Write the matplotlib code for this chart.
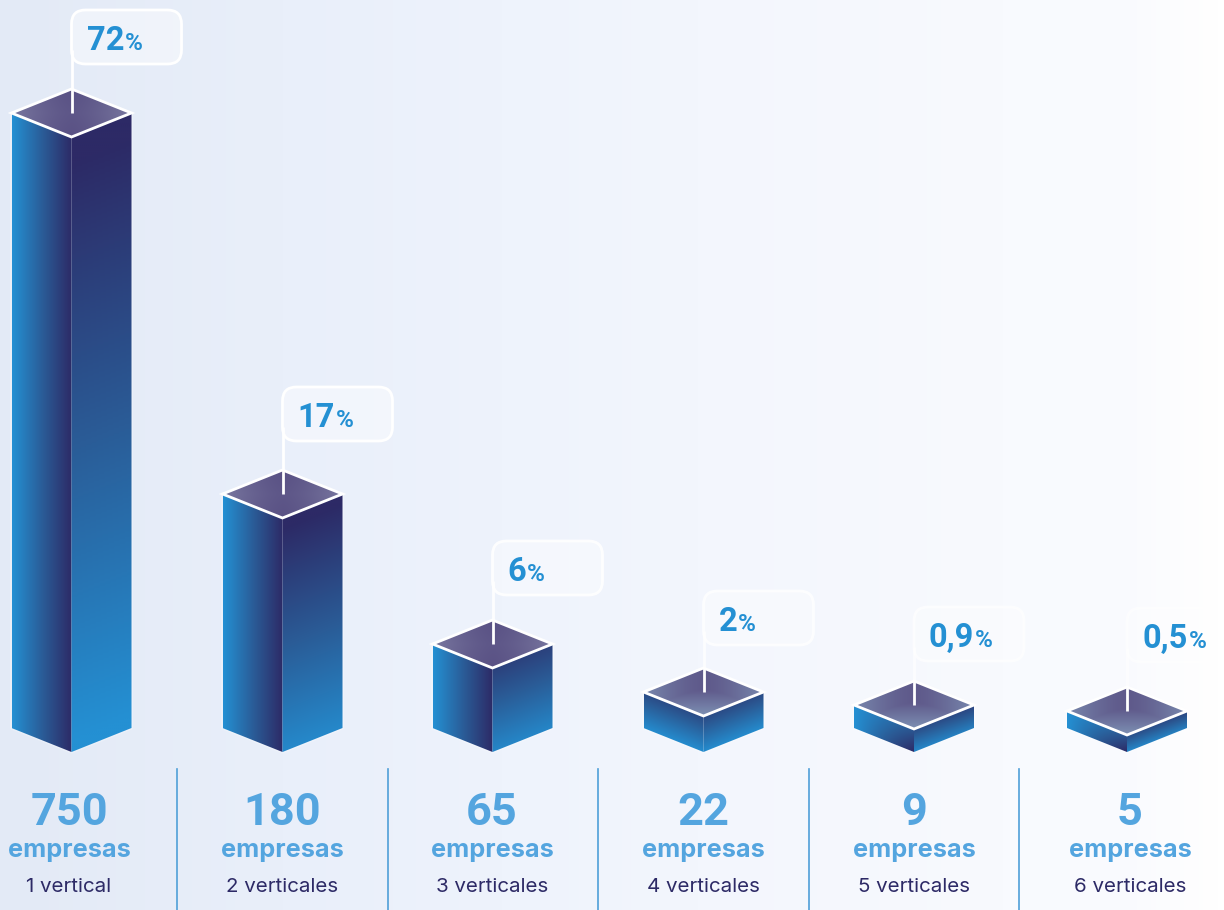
import numpy as np
import matplotlib
matplotlib.use("Agg")
import matplotlib.pyplot as plt
from matplotlib.colors import LinearSegmentedColormap
from matplotlib.patches import Polygon, FancyBboxPatch

plt.rcParams['font.family'] = ['Inter', 'DejaVu Sans']

companies = ['750', '180', '65', '22', '9', '5']
verticals = ['1 vertical', '2 verticales', '3 verticales', '4 verticales', '5 verticales', '6 verticales']
shares = ['72', '17', '6', '2', '0,9', '0,5']
bar_heights = [615, 234, 84, 36, 23, 17]

bar_x = [71.5, 282.5, 492.5, 703.5, 914, 1127]
text_x = [69, 282, 492, 703, 914, 1130]
box_bottom = [64, 441, 595, 645, 661, 662]
box_alpha = [1, 1, .9, .8, .7, .6]
dividers = [177, 387.5, 598, 808.5, 1019]
HW, DY, BASE = 60, 24, 728
BLUE, NAVY = '#2490D3', '#2D2A66'
BOX_W, BOX_H = 110, 54
NUM_FONT = ['Roboto', 'DejaVu Sans']

fig = plt.figure(figsize=(12.24, 9.10), dpi=100)
ax = fig.add_axes([0, 0, 1, 1])
ax.set_xlim(0, 1224); ax.set_ylim(910, 0); ax.axis('off')

bg = LinearSegmentedColormap.from_list('bg', [(0, '#E3EAF6'), (.23, '#E9EFFA'), (.41, '#EEF3FC'), (.57, '#F3F6FD'),
                                              (.82, '#F8FAFE'), (.93, '#FAFBFE'), (1, '#FFFFFF')])
gx = np.linspace(0, 1, 400)[None, :]
ax.imshow(gx, extent=(0, 1224, 910, 0), cmap=bg, aspect='auto', zorder=0, interpolation='bilinear')

cm = LinearSegmentedColormap.from_list('face', [NAVY, '#2A5D98', BLUE])


def face(pts, grad, ext, cmap=cm, zorder=2):
    im = ax.imshow(grad, extent=ext, cmap=cmap, vmin=0, vmax=1, aspect='auto', zorder=zorder,
                   interpolation='bilinear')
    p = Polygon(pts, closed=True, fc='none', ec='none')
    ax.add_patch(p)
    im.set_clip_path(p)


n = 300
for h, x, bb, a, share in zip(bar_heights, bar_x, box_bottom, box_alpha, shares):
    top = BASE - h
    ext = (x - HW, x + HW, BASE + DY, top - DY)
    u, v = np.meshgrid(np.linspace(0, 1, n), np.linspace(0, 1, n))
    ys = top - DY + v * (h + 2 * DY)
    sl = np.clip(u * 2, 0, 1)
    sr = np.clip(2 - u * 2, 0, 1)
    wl = np.clip((ys - (top + sl * DY)) / h, 0, 1)
    wr = np.clip((ys - (top + sr * DY)) / h, 0, 1)
    if h >= 200:
        left = 1 - sl
        right = np.clip((wr - .04) * (1.06 if h > 300 else .96), 0, 1)
    elif h >= 60:
        left = 1 - sl
        right = .22 + .68 * wr
    elif h >= 30:
        left = .3 + .65 * wl
        right = .3 + .65 * wr
    else:
        left = np.clip(1 - sl * (.55 + .45 * wl), 0, 1)
        right = np.clip(.32 + .58 * wr - .08 * (1 - sr), 0, 1)
    face([(x - HW, top), (x, top + DY), (x, BASE + DY), (x - HW, BASE)], left, ext)
    face([(x + HW, top), (x, top + DY), (x, BASE + DY), (x + HW, BASE)], right, ext)

    # top face
    diamond = [(x, top - DY), (x + HW, top), (x, top + DY), (x - HW, top)]
    ut, vt = np.meshgrid(np.linspace(-1, 1, n), np.linspace(-1, 1, n))
    if h >= 60:
        tc = LinearSegmentedColormap.from_list('t', ['#5A5285', '#75739C'])
        r = np.clip(np.abs(ut) ** 1.5 + .15 * (1 - np.abs(vt)), 0, 1)
    else:
        tc = LinearSegmentedColormap.from_list('t', ['#5F5A8B', '#7C8EB2'])
        r = np.clip(np.maximum(np.abs(ut) ** 1.5 * .9, (vt + .1) * .95), 0, 1)
    face(diamond, r, (x - HW, x + HW, top + DY, top - DY), cmap=tc, zorder=3)
    ax.add_patch(Polygon(diamond, closed=True, fc='none', ec='white', lw=2.0, joinstyle='miter', zorder=4))
    # soft bar outline
    ax.plot([x - HW, x - HW, x, x + HW, x + HW], [top, BASE, BASE + DY, BASE, top],
            color='white', alpha=.25, lw=2.2, zorder=1.5)

    # callout
    bt = bb - BOX_H
    ax.add_patch(FancyBboxPatch((x + 14, bt + 14), BOX_W - 28, BOX_H - 28,
                                boxstyle='round,pad=14,rounding_size=14',
                                fc=(1, 1, 1, .42 * a), ec=(1, 1, 1, a), lw=2.0, zorder=5))
    ax.plot([x, x], [bb - 14, top - DY], color='white', alpha=a, lw=2.0, zorder=5, solid_capstyle='butt')
    ax.plot([x, x], [top - DY, top], color='white', lw=2.0, zorder=5, solid_capstyle='butt')
    tx = ax.text(x + 15, bb - 14, share, color=BLUE, fontsize=23.5, fontweight='bold', family=NUM_FONT,
                 va='baseline', ha='left', zorder=6)
    w = tx.get_window_extent(fig.canvas.get_renderer()).width
    ax.text(x + 15 + w + 1, bb - 14, '%', color=BLUE, fontsize=17.5, fontweight='bold', family=NUM_FONT,
            va='baseline', ha='left', zorder=6)

for c, vt_label, x in zip(companies, verticals, text_x):
    ax.text(x, 825, c, color='#54A5DF', fontsize=32.5, fontweight='bold', family=NUM_FONT,
            ha='center', va='baseline', zorder=6)
    ax.text(x, 857, 'empresas', color='#54A5DF', fontsize=18.2, fontweight='bold', ha='center',
            va='baseline', zorder=6)
    ax.text(x, 891.5, vt_label, color='#2D2A66', fontsize=14.8, ha='center', va='baseline', zorder=6)

for d in dividers:
    ax.plot([d, d], [769, 910], color='#4F9FD8', lw=1.2, zorder=1)

ax.set_xlim(0, 1224); ax.set_ylim(910, 0)
fig.savefig('out.png', dpi=100)
